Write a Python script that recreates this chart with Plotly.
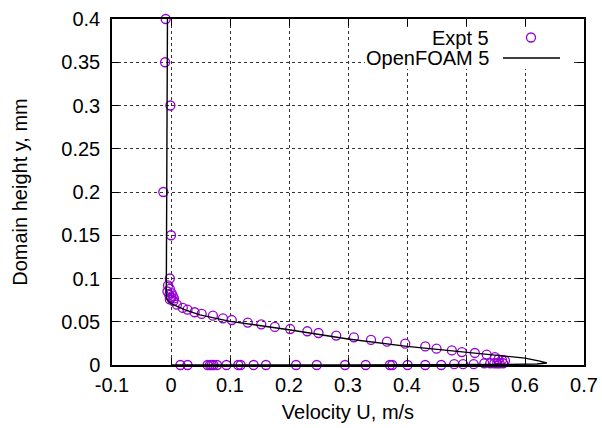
import plotly.graph_objects as go

# ---- data ----
expt_u = [-0.009, -0.010, -0.001, -0.013, 0.000, -0.002,
          -0.005, -0.002, -0.006, 0.001, -0.003, 0.003, 0.000, 0.005, -0.002, 0.004,
          0.010, 0.020, 0.028, 0.040, 0.052, 0.071, 0.088, 0.103, 0.130, 0.153,
          0.176, 0.202, 0.231, 0.250, 0.280, 0.310, 0.339, 0.366, 0.397, 0.431,
          0.450, 0.476, 0.493, 0.515, 0.535, 0.549, 0.555, 0.561, 0.566,
          0.016, 0.028, 0.062, 0.066, 0.069, 0.072, 0.078, 0.094, 0.114, 0.118,
          0.140, 0.161, 0.212, 0.247, 0.295, 0.330, 0.371, 0.375, 0.401, 0.431,
          0.458, 0.480, 0.495, 0.513, 0.531, 0.541, 0.548, 0.553, 0.557, 0.563]
expt_y = [0.400, 0.350, 0.300, 0.200, 0.150, 0.100,
          0.092, 0.088, 0.085, 0.083, 0.081, 0.080, 0.078, 0.077, 0.076, 0.074,
          0.0697, 0.066, 0.064, 0.061, 0.059, 0.057, 0.054, 0.052, 0.049, 0.047,
          0.044, 0.0416, 0.039, 0.037, 0.034, 0.032, 0.029, 0.027, 0.0246, 0.0215,
          0.0189, 0.0169, 0.015, 0.0139, 0.012, 0.009, 0.0066, 0.0058, 0.005,
          0.0, 0.0, 0.0, 0.0, 0.0, 0.0, 0.0, 0.0, 0.0, 0.0,
          0.0, 0.0, 0.0, 0.0, 0.0, 0.0, 0.0, 0.0, 0.0, 0.0,
          0.0, 0.001, 0.001, 0.001, 0.002, 0.002, 0.002, 0.002, 0.002, 0.002]

ofoam_u = [-0.006, -0.007, -0.008, -0.008, -0.008, -0.007, -0.004, 0.002, 0.010,
           0.025, 0.049, 0.100, 0.200, 0.300, 0.400, 0.500, 0.550, 0.600, 0.625,
           0.637, 0.620, 0.550, 0.300, 0.000]
ofoam_y = [0.400, 0.300, 0.200, 0.100, 0.080, 0.0765, 0.073, 0.0705, 0.068,
           0.0635, 0.058, 0.0504, 0.0408, 0.030, 0.0215, 0.0146, 0.0115, 0.008, 0.0045,
           0.0023, 0.0012, 0.0005, 0.0002, 0.000]

x_tickvals = [-0.1, 0, 0.1, 0.2, 0.3, 0.4, 0.5, 0.6, 0.7]
x_ticktext = ["-0.1", "0", "0.1", "0.2", "0.3", "0.4", "0.5", "0.6", "0.7"]
y_tickvals = [0, 0.05, 0.1, 0.15, 0.2, 0.25, 0.3, 0.35, 0.4]
y_ticktext = ["0", "0.05", "0.1", "0.15", "0.2", "0.25", "0.3", "0.35", "0.4"]

series_names = ["Expt 5", "OpenFOAM 5"]
expt_color = "#9400d3"

# ---- layout geometry (pixels) ----
W, H = 602, 428
L, R, T, B = 112, 18, 19, 63
PW, PH = W - L - R, H - T - B


def px(xp):
    return (xp - L) / PW


def py(yp):
    return (H - B - yp) / PH


FONT = "Liberation Sans, Arial, sans-serif"

fig = go.Figure()
fig.add_trace(go.Scatter(
    x=expt_u, y=expt_y, mode="markers", name=series_names[0], cliponaxis=False,
    marker=dict(symbol="circle-open", size=9, color=expt_color, line=dict(width=1.3, color=expt_color)),
))
fig.add_trace(go.Scatter(
    x=ofoam_u, y=ofoam_y, mode="lines", name=series_names[1],
    line=dict(color="black", width=1.4),
))

axis_common = dict(
    showline=True, linecolor="black", linewidth=1.5, mirror="ticks",
    ticks="inside", ticklen=7, tickwidth=1, tickcolor="black",
    showgrid=True, gridcolor="#333", griddash="dot", gridwidth=1,
    zeroline=False, automargin=False,
    tickfont=dict(family=FONT, size=20, color="black"),
)

fig.update_layout(
    width=W, height=H,
    margin=dict(l=L, r=R, t=T, b=B),
    paper_bgcolor="white", plot_bgcolor="white",
    showlegend=False,
    font=dict(family=FONT, size=20, color="black"),
    xaxis=dict(range=[-0.1, 0.7], tickvals=x_tickvals, ticktext=x_ticktext,
               title=dict(text="Velocity U, m/s", standoff=10, font=dict(family=FONT, size=20)),
               ticklabelstandoff=1, **axis_common),
    yaxis=dict(range=[0, 0.4], tickvals=y_tickvals, ticktext=y_ticktext,
               title=dict(text="Domain height y, mm", standoff=28, font=dict(family=FONT, size=20)),
               ticklabelstandoff=6, **axis_common),
)

# opaque key box
fig.add_shape(type="rect", xref="paper", yref="paper",
              x0=px(365), x1=px(573), y0=py(69), y1=py(27),
              fillcolor="white", line=dict(width=0), layer="above")
# key samples
fig.add_shape(type="circle", xref="paper", yref="paper",
              xsizemode="pixel", ysizemode="pixel",
              xanchor=px(531), yanchor=py(37.5), x0=-4.5, x1=4.5, y0=-4.5, y1=4.5,
              line=dict(color=expt_color, width=1.3), layer="above")
fig.add_shape(type="line", xref="paper", yref="paper",
              x0=px(503), x1=px(560), y0=py(58), y1=py(58),
              line=dict(color="black", width=1.4), layer="above")
fig.add_annotation(text=series_names[0], xref="paper", yref="paper",
                   x=px(491), y=py(37.5), xanchor="right", yanchor="middle",
                   showarrow=False, font=dict(family=FONT, size=20, color="black"))
fig.add_annotation(text=series_names[1], xref="paper", yref="paper",
                   x=px(491), y=py(58), xanchor="right", yanchor="middle",
                   showarrow=False, font=dict(family=FONT, size=20, color="black"))

fig.write_html("out.html")
